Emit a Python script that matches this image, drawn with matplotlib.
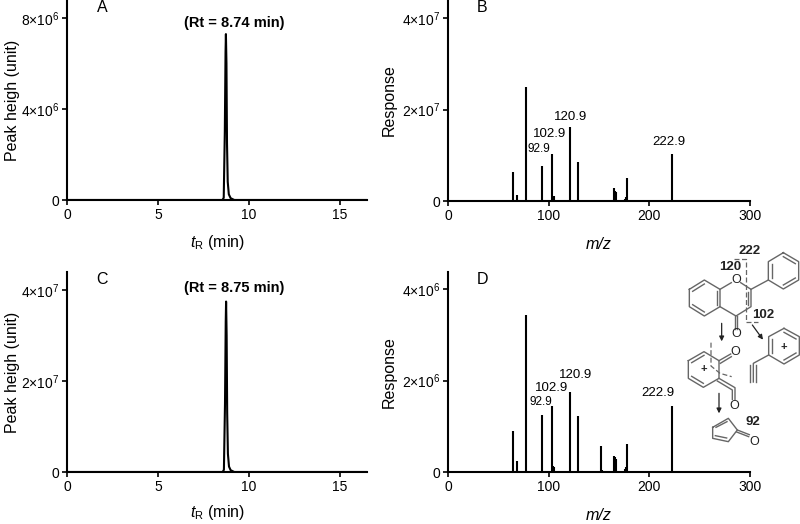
import matplotlib
matplotlib.use('Agg')
import matplotlib.pyplot as plt

plt.rcParams['font.family'] = ['Liberation Sans', 'DejaVu Sans']
plt.rcParams['mathtext.fontset'] = 'custom'
plt.rcParams['mathtext.rm'] = 'Liberation Sans'
plt.rcParams['mathtext.it'] = 'Liberation Sans:italic'
plt.rcParams['mathtext.default'] = 'regular'

# chromatograms
time_a = [0, 8.55, 8.62, 8.68, 8.72, 8.74, 8.77, 8.80, 8.84, 8.90, 9.0, 9.2, 16.5]
peak_a = [0, 0, 0.1e6, 3.0e6, 6.5e6, 7.3e6, 6.0e6, 2.5e6, 0.8e6, 0.25e6, 0.08e6, 0, 0]
time_c = [0, 8.56, 8.63, 8.69, 8.73, 8.75, 8.78, 8.81, 8.85, 8.91, 9.0, 9.2, 16.5]
peak_c = [0, 0, 0.05e7, 1.5e7, 3.3e7, 3.75e7, 3.0e7, 1.3e7, 0.4e7, 0.12e7, 0.04e7, 0, 0]

# spectra
mz_b = [65, 69, 77, 93, 103, 104, 105, 121, 129, 152, 165, 166, 167, 176, 177, 178, 223]
resp_b = [0.63e7, 0.13e7, 2.5e7, 0.77e7, 1.03e7, 0.11e7, 0.1e7, 1.61e7, 0.85e7, 0.03e7,
          0.28e7, 0.22e7, 0.2e7, 0.04e7, 0.08e7, 0.5e7, 1.02e7]
mz_d = [65, 69, 77, 92, 93, 103, 104, 105, 121, 129, 152, 153, 165, 166, 167, 176, 177, 178, 223]
resp_d = [0.89e6, 0.24e6, 3.43e6, 0.02e6, 1.24e6, 1.44e6, 0.13e6, 0.12e6, 1.75e6, 1.22e6, 0.56e6,
          0.05e6, 0.36e6, 0.33e6, 0.29e6, 0.07e6, 0.11e6, 0.62e6, 1.45e6]

W, H = 800.0, 524.0
fs = 11.5
ts = 10


def make_ax(left, right, top, bottom):
    ax = fig.add_axes([left / W, 1 - bottom / H, (right - left) / W, (bottom - top) / H])
    ax.spines['top'].set_visible(False)
    ax.spines['right'].set_visible(False)
    ax.spines['left'].set_linewidth(1.5)
    ax.spines['bottom'].set_linewidth(1.5)
    ax.tick_params(width=1.2, length=3.5, labelsize=ts, pad=2)
    ax.patch.set_alpha(0)
    return ax


fig = plt.figure(figsize=(8.0, 5.24), dpi=100)

# A
ax = make_ax(67, 367, 0, 200)
ax.plot(time_a, peak_a, c='black', lw=1.5)
ax.set_xlim(0, 16.5)
ax.set_ylim(0, 8.8e6)
ax.set_xticks([0, 5, 10, 15])
ax.set_yticks([0, 4e6, 8e6])
ax.set_yticklabels(['0', r'4×10$^{6}$', r'8×10$^{6}$'])
ax.set_xlabel(r'$\mathit{t}_{R}$ (min)', fontsize=fs, labelpad=8)
ax.set_ylabel('Peak heigh (unit)', fontsize=fs, labelpad=1)
fig.text(102 / W, 1 - 8 / H, 'A', fontsize=fs, va='center', ha='center')
fig.text(234 / W, 1 - 23 / H, '(Rt = 8.74 min)', fontsize=10.5, fontweight='bold', va='center', ha='center')

# B
ax = make_ax(448, 750, 0, 201)
ax.vlines(mz_b, 0, resp_b, color='black', lw=1.5)
ax.set_xlim(0, 300)
ax.set_ylim(0, 4.4e7)
ax.set_xticks([0, 100, 200, 300])
ax.set_yticks([0, 2e7, 4e7])
ax.set_yticklabels(['0', r'2×10$^{7}$', r'4×10$^{7}$'])
ax.set_xlabel('m/z', fontsize=fs, style='italic', labelpad=10)
ax.set_ylabel('Response', fontsize=fs, labelpad=4)
fig.text(482 / W, 1 - 8 / H, 'B', fontsize=fs, va='center', ha='center')
for x, y, s, size in [(571, 117, '120.9', 9.5), (550, 134, '102.9', 9.5), (539, 149, '92.9', 8.5), (669, 142, '222.9', 9.5)]:
    fig.text(x / W, 1 - y / H, s, fontsize=size, va='center', ha='center')

# C
ax = make_ax(67, 367, 272, 472)
ax.plot(time_c, peak_c, c='black', lw=1.5)
ax.set_xlim(0, 16.5)
ax.set_ylim(0, 4.4e7)
ax.set_xticks([0, 5, 10, 15])
ax.set_yticks([0, 2e7, 4e7])
ax.set_yticklabels(['0', r'2×10$^{7}$', r'4×10$^{7}$'])
ax.set_xlabel(r'$\mathit{t}_{R}$ (min)', fontsize=fs, labelpad=7)
ax.set_ylabel('Peak heigh (unit)', fontsize=fs, labelpad=1)
fig.text(102 / W, 1 - 279 / H, 'C', fontsize=fs, va='center', ha='center')
fig.text(234 / W, 1 - 288 / H, '(Rt = 8.75 min)', fontsize=10.5, fontweight='bold', va='center', ha='center')

# D
ax = make_ax(448, 750, 272, 472)
ax.vlines(mz_d, 0, resp_d, color='black', lw=1.5)
ax.set_xlim(0, 300)
ax.set_ylim(0, 4.38e6)
ax.set_xticks([0, 100, 200, 300])
ax.set_yticks([0, 2e6, 4e6])
ax.set_yticklabels(['0', r'2×10$^{6}$', r'4×10$^{6}$'])
ax.set_xlabel('m/z', fontsize=fs, style='italic', labelpad=10)
ax.set_ylabel('Response', fontsize=fs, labelpad=4)
fig.text(482 / W, 1 - 279 / H, 'D', fontsize=fs, va='center', ha='center')
for x, y, s, size in [(576, 375, '120.9', 9.5), (552, 388, '102.9', 9.5), (541, 402, '92.9', 8.5), (658, 393, '222.9', 9.5)]:
    fig.text(x / W, 1 - y / H, s, fontsize=size, va='center', ha='center')

# structures, drawn over the right side of panel D
st = fig.add_axes([640 / W, 1 - 470 / H, 160 / W, 240 / H])
st.set_xlim(0, 480)
st.set_ylim(720, 0)
st.axis('off')
grey = '#666666'


def bonds(pts, closed=False, color=grey):
    xs = [p[0] for p in pts]
    ys = [p[1] for p in pts]
    if closed:
        xs.append(xs[0])
        ys.append(ys[0])
    st.plot(xs, ys, c=color, lw=1.0)


def dash(pts):
    st.plot([p[0] for p in pts], [p[1] for p in pts], c=grey, lw=0.9, ls=(0, (4, 2)))


def arrow(p, q):
    st.annotate('', xy=q, xytext=p, arrowprops=dict(arrowstyle='-|>', color='#222222', lw=0.9, mutation_scale=7, shrinkA=0, shrinkB=0))


def label(x, y, s, bold=False, size=9):
    st.text(x, y, s, fontsize=size, ha='center', va='center', fontweight='bold' if bold else 'normal', color='#222222')


# flavone
bonds([(148, 178), (193, 150), (240, 178), (240, 230), (193, 258), (148, 230)], True)
bonds([(158, 184), (193, 162)])
bonds([(158, 224), (193, 246)])
bonds([(230, 184), (230, 224)])
bonds([(240, 178), (274, 158)])
bonds([(302, 158), (333, 178), (333, 230), (288, 258), (240, 230)])
bonds([(323, 186), (323, 224)])
bonds([(284, 258), (284, 296)])
bonds([(292, 258), (292, 296)])
bonds([(333, 178), (385, 150)])
bonds([(430, 68), (476, 95), (476, 150), (430, 177), (385, 150), (385, 95)], True)
bonds([(430, 80), (466, 101)])
bonds([(466, 144), (430, 165)])
bonds([(395, 144), (395, 101)])
label(288, 150, 'O')
label(288, 312, 'O')
dash([(283, 86), (318, 86), (318, 275), (355, 275)])
label(330, 62, '222', True, 9.5)
label(270, 110, '120', True, 9.5)
label(370, 255, '102', True, 9.5)

# fragments
arrow((245, 280), (245, 334))
arrow((337, 285), (369, 329))
arrow((237, 490), (237, 550))
bonds([(145, 392), (192, 365), (237, 392), (237, 445), (190, 472), (145, 445)], True)
bonds([(155, 398), (192, 376)])
bonds([(155, 439), (190, 460)])
bonds([(237, 392), (272, 372)])
bonds([(241, 400), (274, 380)])
bonds([(237, 445), (285, 473), (285, 508)])
bonds([(232, 453), (277, 480), (277, 508)])
label(285, 367, 'O')
label(283, 527, 'O')
label(192, 418, '+', True, 8)
dash([(213, 338), (213, 408), (240, 430), (275, 440)])

bonds([(432, 295), (478, 320), (478, 375), (432, 402), (386, 375), (386, 320)], True)
bonds([(432, 307), (468, 327)])
bonds([(468, 369), (432, 390)])
bonds([(396, 369), (396, 327)])
bonds([(386, 375), (340, 400), (340, 456)])
bonds([(331, 404), (331, 456)])
bonds([(349, 404), (349, 456)])
label(430, 350, '+', True, 8)

bonds([(218, 592), (265, 565), (292, 600), (265, 635), (218, 625)], True)
bonds([(228, 592), (261, 575)])
bonds([(226, 617), (260, 624)])
bonds([(292, 600), (328, 614)])
bonds([(290, 606), (326, 620)])
label(343, 635, 'O')
label(340, 575, '92', True, 9.5)

plt.savefig('out.png', dpi=100)
